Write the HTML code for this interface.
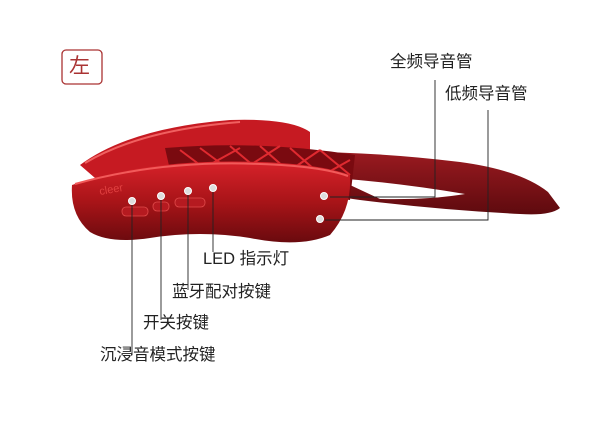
<!DOCTYPE html>
<html><head><meta charset="utf-8"><style>
body{margin:0;background:#fff;}
.w{position:relative;width:600px;height:426px;overflow:hidden;background:#fff;font-family:"Liberation Sans","Noto Sans CJK SC",sans-serif;}
.t{position:absolute;font-size:16.5px;color:#222;white-space:nowrap;line-height:1;}
</style></head><body><div class="w">
<svg width="600" height="426" style="position:absolute;left:0;top:0">
<defs>
<linearGradient id="g1" x1="0" y1="0" x2="0" y2="1"><stop offset="0" stop-color="#d8222a"/><stop offset="0.5" stop-color="#a81418"/><stop offset="1" stop-color="#6a0a0e"/></linearGradient>
<linearGradient id="g2" x1="0" y1="0" x2="0" y2="1"><stop offset="0" stop-color="#9a1a20"/><stop offset="1" stop-color="#5e0a0e"/></linearGradient>
</defs>
<rect x="62" y="50" width="40" height="34" rx="4" fill="none" stroke="#a33" stroke-width="1.3"/>
<path d="M300 152 Q380 152 460 162 Q520 170 548 192 L560 208 Q550 216 520 214 Q440 210 360 200 Q330 196 315 190 Z" fill="url(#g2)"/>
<path d="M335 178 Q400 183 465 194 Q430 200 380 199 Z" fill="#fff"/>
<path d="M80 165 Q130 128 230 120 Q290 118 310 132 L310 160 Q200 160 95 178 Z" fill="#c61a22"/>
<path d="M85 163 Q140 130 240 122" stroke="#f06060" stroke-width="2" fill="none"/>
<path d="M165 148 Q260 140 355 155 L350 200 Q260 190 170 170 Z" fill="#7a0a10"/>
<g stroke="#e02a30" stroke-width="2">
<path d="M180 150 L220 180 M200 148 L250 185 M230 146 L280 188 M260 146 L310 190 M290 148 L340 192 M320 150 L350 175 M200 170 L240 148 M230 178 L280 146 M270 184 L320 150 M300 188 L350 160"/>
</g>
<path d="M72 185 Q150 158 260 162 Q320 164 350 175 Q352 210 330 235 Q300 248 250 238 Q200 230 150 238 Q110 244 90 232 Q70 215 72 185 Z" fill="url(#g1)"/>
<path d="M75 184 Q160 160 260 164 Q320 166 348 176" stroke="#f25a5a" stroke-width="2" fill="none"/>
<text x="100" y="195" fill="#e04040" font-size="11" font-family="Liberation Sans" transform="rotate(-10 100 195)">cleer</text>
<rect x="122" y="207" width="26" height="9" rx="4" fill="#b51a20" stroke="#e04a4a" stroke-width="0.8"/>
<rect x="153" y="202" width="16" height="9" rx="4" fill="#b51a20" stroke="#e04a4a" stroke-width="0.8"/>
<rect x="175" y="198" width="30" height="9" rx="4" fill="#b51a20" stroke="#e04a4a" stroke-width="0.8"/>
<g stroke="#222" stroke-width="0.9" fill="none">
<path d="M132 201 V355"/><path d="M161 196 V320"/><path d="M188 191 V290"/><path d="M213 188 V252"/>
<path d="M435 80 V197 H330"/><path d="M488 110 V220 H325"/>
</g>
<g fill="#ddd" stroke="#fff" stroke-width="1">
<circle cx="132" cy="201" r="3.5"/><circle cx="161" cy="196" r="3.5"/><circle cx="188" cy="191" r="3.5"/><circle cx="213" cy="188" r="3.5"/><circle cx="324" cy="196" r="3.5"/><circle cx="320" cy="219" r="3.5"/>
</g>
</svg>
<div class="t" style="left:69px;top:56px;font-size:21px;color:#a33;">左</div>
<div class="t" style="left:390px;top:54px;">全频导音管</div>
<div class="t" style="left:445px;top:86px;">低频导音管</div>
<div class="t" style="left:203px;top:251px;">LED 指示灯</div>
<div class="t" style="left:172px;top:284px;">蓝牙配对按键</div>
<div class="t" style="left:143px;top:315px;">开关按键</div>
<div class="t" style="left:100px;top:347px;">沉浸音模式按键</div>
</div></body></html>
